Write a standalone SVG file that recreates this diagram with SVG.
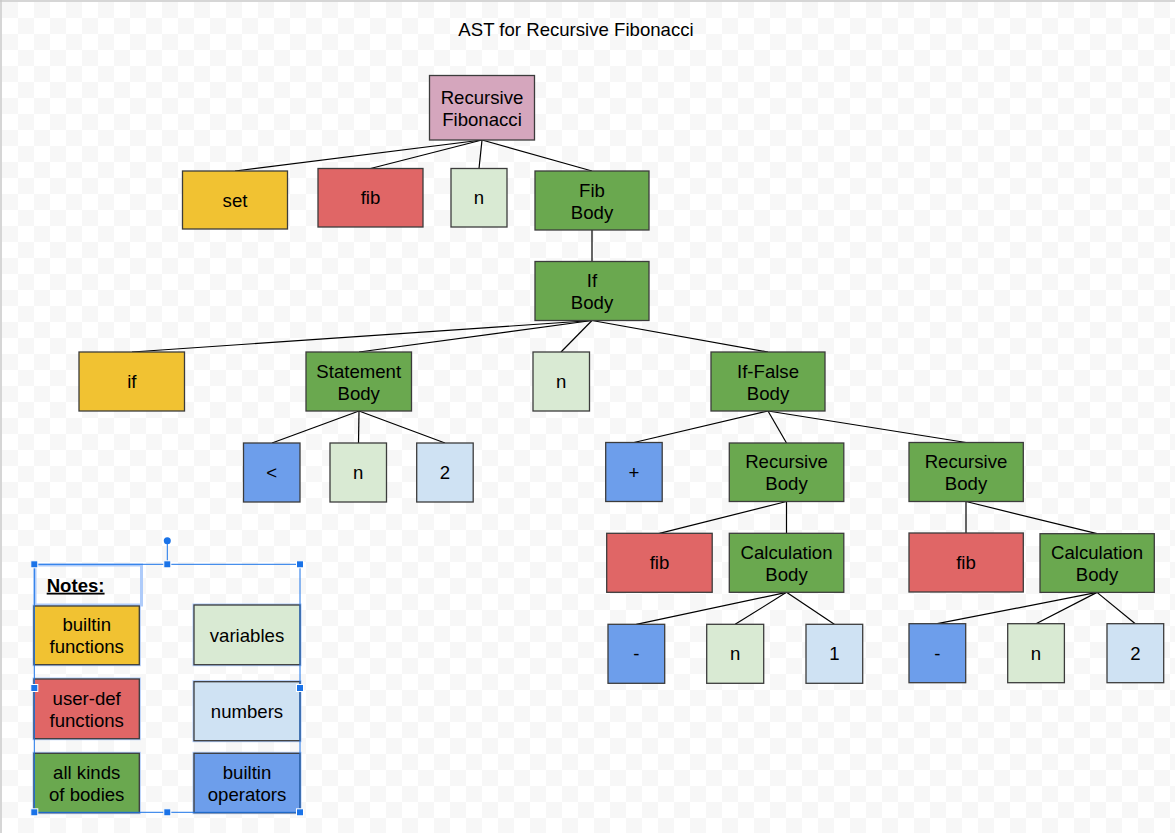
<svg xmlns="http://www.w3.org/2000/svg" width="1175" height="833" viewBox="0 0 1175 833">
<defs>
<pattern id="checker" x="2" y="2" width="32" height="32" patternUnits="userSpaceOnUse">
<rect width="32" height="32" fill="#ffffff"/>
<rect width="16" height="16" fill="#f7f7f7"/>
<rect x="16" y="16" width="16" height="16" fill="#f7f7f7"/>
</pattern>
<style>
.box{stroke:#3c3c3c;stroke-width:1.3}
.pink{fill:#d5a6bd}.yellow{fill:#f1c232}.red{fill:#e06666}.lgreen{fill:#d9ead3}.green{fill:#6aa84f}.blue{fill:#6d9eeb}.lblue{fill:#cfe2f3}
text{font-family:"Liberation Sans",Arial,sans-serif;font-size:18.6px;fill:#000;text-anchor:middle}
.conn line{stroke:#000;stroke-width:1.2}
.glow{fill:none;stroke:#aecbfa;stroke-width:3}
.handle{fill:#1a73e8;stroke:#ffffff;stroke-width:1}
</style>
</defs>
<rect x="0" y="0" width="1175" height="833" fill="#ffffff"/>
<rect x="2" y="2" width="1173" height="831" fill="url(#checker)"/>
<line x1="0" y1="1" x2="1175" y2="1" stroke="#c8c8c8" stroke-width="1.5"/>
<line x1="1" y1="0" x2="1" y2="833" stroke="#c8c8c8" stroke-width="1.5"/>

<text id="title" x="576" y="36">AST for Recursive Fibonacci</text>

<g id="connectors" class="conn">
<line x1="482" y1="140" x2="235" y2="171"/>
<line x1="482" y1="140" x2="370.5" y2="168.5"/>
<line x1="482" y1="140" x2="479" y2="168.5"/>
<line x1="482" y1="140" x2="592" y2="171"/>
<line x1="592" y1="230" x2="592" y2="261.5"/>
<line x1="592" y1="320.5" x2="132" y2="352"/>
<line x1="592" y1="320.5" x2="359" y2="352"/>
<line x1="592" y1="320.5" x2="561" y2="352"/>
<line x1="592" y1="320.5" x2="768" y2="352"/>
<line x1="359" y1="411" x2="272" y2="443"/>
<line x1="359" y1="411" x2="358.5" y2="443"/>
<line x1="359" y1="411" x2="445" y2="443"/>
<line x1="768" y1="411" x2="634" y2="442.5"/>
<line x1="768" y1="411" x2="786.5" y2="443"/>
<line x1="768" y1="411" x2="966" y2="442.5"/>
<line x1="786.5" y1="501.5" x2="659.5" y2="533.3"/>
<line x1="786.5" y1="501.5" x2="786.5" y2="533.3"/>
<line x1="966" y1="501.5" x2="966" y2="533"/>
<line x1="966" y1="501.5" x2="1097" y2="533.7"/>
<line x1="786.5" y1="592.3" x2="636.3" y2="624.3"/>
<line x1="786.5" y1="592.3" x2="735.2" y2="624.3"/>
<line x1="786.5" y1="592.3" x2="834.3" y2="624.3"/>
<line x1="1097" y1="592.4" x2="937.3" y2="623.7"/>
<line x1="1097" y1="592.4" x2="1036" y2="623.7"/>
<line x1="1097" y1="592.4" x2="1135.3" y2="623.7"/>
</g>

<g id="root"><rect class="box pink" x="429.5" y="75.5" width="105" height="64.5"/><text x="482" y="103.5">Recursive</text><text x="482" y="125.5">Fibonacci</text></g>
<g id="set"><rect class="box yellow" x="182.5" y="171" width="105" height="58"/><text x="235" y="206.5">set</text></g>
<g id="fib-top"><rect class="box red" x="318" y="168.5" width="105" height="58.5"/><text x="370.5" y="204.2">fib</text></g>
<g id="n-top"><rect class="box lgreen" x="451" y="168.5" width="56" height="58.5"/><text x="479" y="204.2">n</text></g>
<g id="fib-body"><rect class="box green" x="535" y="171" width="114" height="59"/><text x="592" y="196.7">Fib</text><text x="592" y="218.5">Body</text></g>
<g id="if-body"><rect class="box green" x="535" y="261.5" width="114" height="59"/><text x="592" y="287">If</text><text x="592" y="309">Body</text></g>
<g id="if"><rect class="box yellow" x="79" y="352" width="105.5" height="59"/><text x="131.8" y="388">if</text></g>
<g id="statement-body"><rect class="box green" x="306" y="352" width="105.5" height="59"/><text x="358.7" y="377.5">Statement</text><text x="358.7" y="399.5">Body</text></g>
<g id="n-if"><rect class="box lgreen" x="533" y="352" width="56.5" height="59"/><text x="561.2" y="388">n</text></g>
<g id="if-false-body"><rect class="box green" x="711" y="352" width="114" height="59"/><text x="768" y="377.5">If-False</text><text x="768" y="399.5">Body</text></g>
<g id="lt"><rect class="box blue" x="243.5" y="443" width="56.5" height="59"/><text x="271.7" y="479">&lt;</text></g>
<g id="n-stmt"><rect class="box lgreen" x="330" y="443" width="56.5" height="59"/><text x="358.2" y="479">n</text></g>
<g id="two-stmt"><rect class="box lblue" x="416.7" y="443" width="56.5" height="59"/><text x="445" y="479">2</text></g>
<g id="plus"><rect class="box blue" x="605.7" y="442.5" width="56.5" height="59"/><text x="634" y="478.5">+</text></g>
<g id="recursive-body-1"><rect class="box green" x="729.3" y="443" width="114.5" height="58.5"/><text x="786.5" y="468.3">Recursive</text><text x="786.5" y="490.3">Body</text></g>
<g id="recursive-body-2"><rect class="box green" x="909" y="442.5" width="114.3" height="59"/><text x="966" y="468">Recursive</text><text x="966" y="490">Body</text></g>
<g id="fib-1"><rect class="box red" x="606.7" y="533.3" width="105.5" height="59"/><text x="659.5" y="569.3">fib</text></g>
<g id="calculation-body-1"><rect class="box green" x="729.3" y="533.3" width="114.5" height="59"/><text x="786.5" y="558.8">Calculation</text><text x="786.5" y="580.8">Body</text></g>
<g id="fib-2"><rect class="box red" x="909" y="533" width="114.3" height="59"/><text x="966" y="569">fib</text></g>
<g id="calculation-body-2"><rect class="box green" x="1040" y="533.7" width="114.3" height="58.7"/><text x="1097" y="559.2">Calculation</text><text x="1097" y="581.2">Body</text></g>
<g id="minus-1"><rect class="box blue" x="608" y="624.3" width="56.7" height="59"/><text x="636.3" y="660.3">-</text></g>
<g id="n-calc-1"><rect class="box lgreen" x="706.7" y="624.3" width="57" height="59"/><text x="735.2" y="660.3">n</text></g>
<g id="one"><rect class="box lblue" x="806" y="624.3" width="56.7" height="59"/><text x="834.3" y="660.3">1</text></g>
<g id="minus-2"><rect class="box blue" x="909" y="623.7" width="56.7" height="59"/><text x="937.3" y="659.7">-</text></g>
<g id="n-calc-2"><rect class="box lgreen" x="1007.7" y="623.7" width="56.7" height="59"/><text x="1036" y="659.7">n</text></g>
<g id="two-calc"><rect class="box lblue" x="1107" y="623.7" width="56.7" height="59"/><text x="1135.3" y="659.7">2</text></g>

<g id="legend">
<g id="notes"><rect x="35" y="565" width="106.5" height="40" fill="#ffffff" class="glow"/><text x="46.7" y="591.7" style="text-anchor:start;font-weight:bold;text-decoration:underline">Notes:</text></g>
<g id="legend-builtin-functions"><rect class="glow" x="34" y="606" width="105.3" height="58.7"/><rect class="box yellow" x="34" y="606" width="105.3" height="58.7"/><text x="86.7" y="631.3">builtin</text><text x="86.7" y="653.3">functions</text></g>
<g id="legend-variables"><rect class="glow" x="194" y="605" width="106" height="59.7"/><rect class="box lgreen" x="194" y="605" width="106" height="59.7"/><text x="247" y="641.5">variables</text></g>
<g id="legend-user-def"><rect class="glow" x="34" y="679" width="105.3" height="59.7"/><rect class="box red" x="34" y="679" width="105.3" height="59.7"/><text x="86.7" y="705">user-def</text><text x="86.7" y="727">functions</text></g>
<g id="legend-numbers"><rect class="glow" x="194" y="681.7" width="106" height="59"/><rect class="box lblue" x="194" y="681.7" width="106" height="59"/><text x="247" y="717.7">numbers</text></g>
<g id="legend-bodies"><rect class="glow" x="34" y="753.3" width="105.3" height="59.4"/><rect class="box green" x="34" y="753.3" width="105.3" height="59.4"/><text x="86.7" y="779">all kinds</text><text x="86.7" y="801">of bodies</text></g>
<g id="legend-operators"><rect class="glow" x="194" y="753.3" width="106" height="59.4"/><rect class="box blue" x="194" y="753.3" width="106" height="59.4"/><text x="247" y="779">builtin</text><text x="247" y="801">operators</text></g>
</g>

<g id="selection">
<rect x="34.3" y="564.3" width="265.7" height="248" fill="none" stroke="#1a73e8" stroke-width="1"/>
<line x1="167.3" y1="543" x2="167.3" y2="561" stroke="#1a73e8" stroke-width="1"/>
<circle cx="167.3" cy="540.7" r="3.5" fill="#1a73e8"/>
<rect class="handle" x="30.8" y="560.8" width="7" height="7"/>
<rect class="handle" x="163.8" y="560.8" width="7" height="7"/>
<rect class="handle" x="296.5" y="560.8" width="7" height="7"/>
<rect class="handle" x="30.8" y="684.5" width="7" height="7"/>
<rect class="handle" x="296.5" y="684.5" width="7" height="7"/>
<rect class="handle" x="30.8" y="808.8" width="7" height="7"/>
<rect class="handle" x="163.8" y="808.8" width="7" height="7"/>
<rect class="handle" x="296.5" y="808.8" width="7" height="7"/>
</g>
</svg>
